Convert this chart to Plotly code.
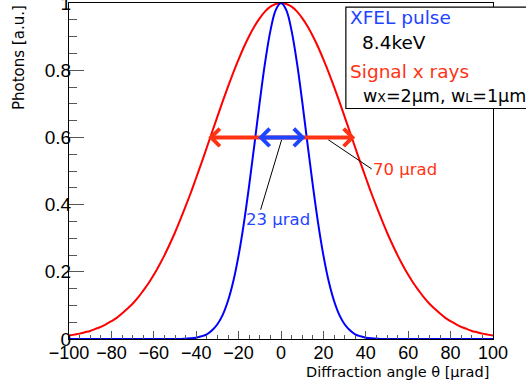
import plotly.graph_objects as go

# Diffraction angle grid [urad], 2.5 urad steps from -100 to 100
theta = [-100 + 2.5 * i for i in range(81)]

# Signal x rays (red) profile, normalised photons
signal_right = [1.000, 0.997, 0.989, 0.975, 0.955, 0.931, 0.902, 0.869, 0.832, 0.793,
                0.751, 0.707, 0.662, 0.616, 0.570, 0.524, 0.480, 0.436, 0.395, 0.355,
                0.317, 0.282, 0.249, 0.219, 0.191, 0.166, 0.144, 0.123, 0.105, 0.090,
                0.076, 0.063, 0.053, 0.044, 0.036, 0.030, 0.024, 0.020, 0.016, 0.013,
                0.010]
signal = [0.010, 0.013, 0.016, 0.020, 0.024, 0.030, 0.036, 0.044, 0.053, 0.063,
          0.076, 0.090, 0.105, 0.123, 0.144, 0.166, 0.191, 0.219, 0.249, 0.282,
          0.317, 0.355, 0.395, 0.436, 0.480, 0.524, 0.570, 0.616, 0.662, 0.707,
          0.751, 0.793, 0.832, 0.869, 0.902, 0.931, 0.955, 0.975, 0.989, 0.997] + signal_right

# XFEL pulse (blue) profile, normalised photons
xfel = [0.000, 0.000, 0.000, 0.000, 0.000, 0.000, 0.000, 0.000, 0.000, 0.000,
        0.000, 0.000, 0.000, 0.000, 0.000, 0.000, 0.000, 0.000, 0.000, 0.000,
        0.000, 0.000, 0.001, 0.002, 0.004, 0.008, 0.014, 0.026, 0.044, 0.072,
        0.114, 0.172, 0.249, 0.345, 0.458, 0.581, 0.707, 0.823, 0.917, 0.979,
        1.000,
        0.979, 0.917, 0.823, 0.707, 0.581, 0.458, 0.345, 0.249, 0.172, 0.114,
        0.072, 0.044, 0.026, 0.014, 0.008, 0.004, 0.002, 0.001, 0.000, 0.000,
        0.000, 0.000, 0.000, 0.000, 0.000, 0.000, 0.000, 0.000, 0.000, 0.000,
        0.000, 0.000, 0.000, 0.000, 0.000, 0.000, 0.000, 0.000, 0.000, 0.000]

# FWHM widths [urad] shown with the double arrows, and the level they are drawn at
fwhm_xfel = 23
fwhm_signal = 70
arrow_level = 0.6

x_ticks = [-100, -80, -60, -40, -20, 0, 20, 40, 60, 80, 100]
y_ticks = [0, 0.2, 0.4, 0.6, 0.8, 1]

RED = "#ff0000"
BLUE = "#0000ff"
ARROW_RED = "#ff3314"
ARROW_BLUE = "#1f44ff"
AXIS_FONT = "Liberation Sans, Arial, sans-serif"
TEXT_FONT = "DejaVu Sans, Verdana, sans-serif"

fig = go.Figure()
fig.add_trace(go.Scatter(x=theta, y=signal, mode="lines", line=dict(color=RED, width=2, shape="spline"),
                         showlegend=False, hoverinfo="skip"))
fig.add_trace(go.Scatter(x=theta, y=xfel, mode="lines", line=dict(color=BLUE, width=2, shape="spline"),
                         showlegend=False, hoverinfo="skip"))


def double_arrow(width, color):
    half = width / 2
    return dict(x=half, y=arrow_level, ax=-half, ay=arrow_level,
                xref="x", yref="y", axref="x", ayref="y", text="",
                showarrow=True, arrowside="end+start", arrowhead=4, startarrowhead=4,
                arrowsize=0.85, startarrowsize=0.85, arrowwidth=4, arrowcolor=color,
                standoff=0, startstandoff=0)


annotations = [
    double_arrow(fwhm_signal, ARROW_RED),
    double_arrow(fwhm_xfel, ARROW_BLUE),
    dict(x=-1.4, y=0.355, xref="x", yref="y", text=f"{fwhm_xfel} µrad", showarrow=False,
         font=dict(family=TEXT_FONT, size=16.5, color=ARROW_BLUE), xanchor="center", yanchor="middle"),
    dict(x=58.4, y=0.504, xref="x", yref="y", text=f"{fwhm_signal} µrad", showarrow=False,
         font=dict(family=TEXT_FONT, size=16.5, color=ARROW_RED), xanchor="center", yanchor="middle"),
    # info box text
    dict(x=0.659, y=0.957, xref="paper", yref="paper", text="XFEL pulse", showarrow=False,
         font=dict(family=TEXT_FONT, size=18.5, color=ARROW_BLUE), xanchor="left", yanchor="middle"),
    dict(x=0.686, y=0.881, xref="paper", yref="paper", text="8.4keV", showarrow=False,
         font=dict(family=TEXT_FONT, size=18.5, color="black"), xanchor="left", yanchor="middle"),
    dict(x=0.659, y=0.797, xref="paper", yref="paper", text="Signal x rays", showarrow=False,
         font=dict(family=TEXT_FONT, size=18.5, color=ARROW_RED), xanchor="left", yanchor="middle"),
    dict(x=0.688, y=0.723, xref="paper", yref="paper",
         text="w<span style='font-size:12.5px'>X</span>=2µm, w<span style='font-size:12.5px'>L</span>=1µm",
         showarrow=False, font=dict(family=TEXT_FONT, size=17.5, color="black"), xanchor="left", yanchor="middle"),
    # axis titles
    dict(x=0.996, y=-0.097, xref="paper", yref="paper", text="Diffraction angle θ [µrad]", showarrow=False,
         font=dict(family=TEXT_FONT, size=14.5, color="black"), xanchor="right", yanchor="middle"),
    dict(x=-0.119, y=1.0, xref="paper", yref="paper", text="Photons [a.u.]", showarrow=False,
         textangle=-90, font=dict(family=TEXT_FONT, size=15, color="black"), xanchor="center", yanchor="top"),
]

shapes = [
    # pointer lines from the arrows to their labels
    dict(type="line", xref="x", yref="y", x0=0.3, y0=0.593, x1=-9.6, y1=0.385,
         line=dict(color="black", width=1)),
    dict(type="line", xref="x", yref="y", x0=22.3, y0=0.593, x1=42.8, y1=0.506,
         line=dict(color="black", width=1)),
    # info box
    dict(type="rect", xref="paper", yref="paper", x0=0.653, x1=1.2, y0=0.686, y1=0.988,
         fillcolor="white", line=dict(color="black", width=1.2)),
]

fig.update_layout(
    width=526, height=385,
    margin=dict(l=69, r=33, t=3, b=46),
    paper_bgcolor="white", plot_bgcolor="white",
    font=dict(family=AXIS_FONT, color="black"),
    annotations=annotations, shapes=shapes,
    showlegend=False,
)
fig.update_xaxes(range=[-100, 100], tickvals=x_ticks, ticks="inside", ticklen=8, tickwidth=1,
                 ticklabelstandoff=-3,
                 tickcolor="#555555", showgrid=False, zeroline=False, showline=True, mirror=True,
                 linecolor="black", linewidth=1, tickfont=dict(family=AXIS_FONT, size=18, color="black"),
                 ticklabeloverflow="allow", automargin=False,
                 minor=dict(dtick=5, ticks="inside", ticklen=4, tickcolor="#555555", showgrid=False))
fig.update_yaxes(range=[0, 1], tickvals=y_ticks, ticktext=["0", "0.2", "0.4", "0.6", "0.8", "1"],
                 ticks="inside", ticklen=15, tickwidth=1, ticklabelstandoff=-7,
                 tickcolor="#555555", showgrid=False, zeroline=False, showline=True, mirror=True,
                 linecolor="black", linewidth=1, tickfont=dict(family=AXIS_FONT, size=19, color="black"),
                 ticklabeloverflow="allow", automargin=False,
                 minor=dict(dtick=0.05, ticks="inside", ticklen=8, tickcolor="#555555", showgrid=False))

fig.write_html("out.html")
